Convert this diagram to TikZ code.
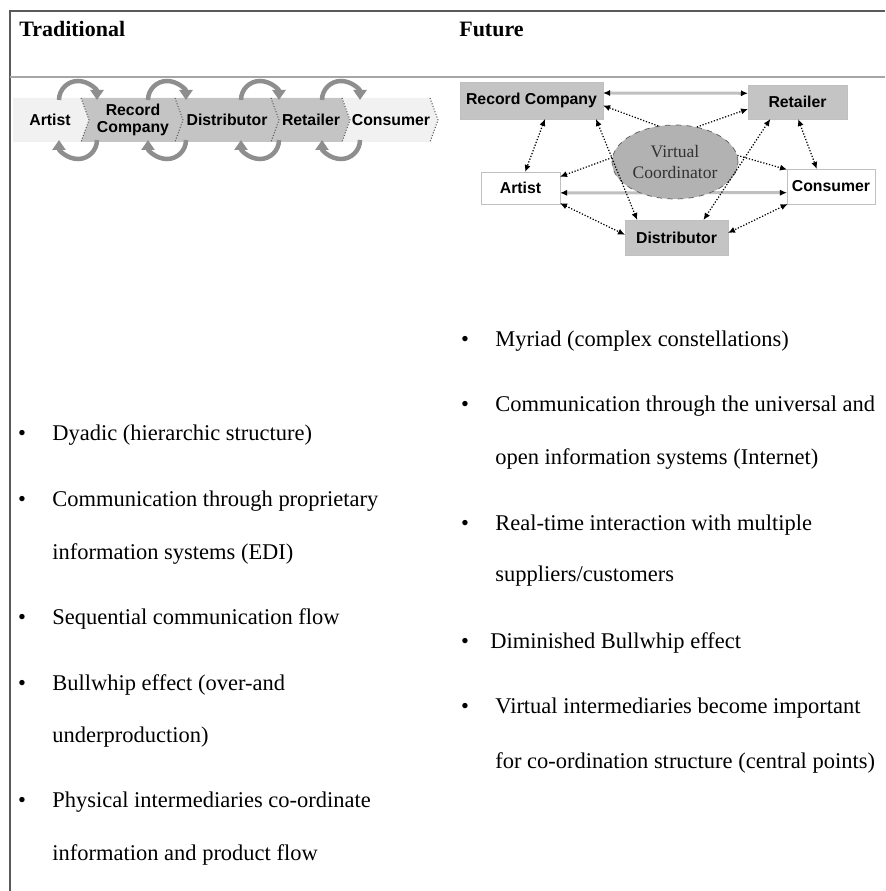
\documentclass[tikz,border=0pt]{standalone}
\usepackage{fontspec}
\setmainfont{Liberation Serif}
\setsansfont{Liberation Sans}
\usepackage{tikz}
\usetikzlibrary{arrows.meta,shapes.geometric,backgrounds}
\definecolor{scPale}{HTML}{F1F1F1}
\definecolor{scGray}{HTML}{C4C4C4}
\definecolor{scDark}{HTML}{B2B2B2}
\definecolor{scArc}{HTML}{8E8E8E}
\definecolor{scLine}{HTML}{C0C0C0}
\definecolor{scRule}{HTML}{5A5A5A}

\begin{document}
\begin{tikzpicture}[x=0.02cm, y=-0.02cm,
    head/.style={anchor=base west, inner sep=0pt, font=\fontsize{12.5}{14}\selectfont\bfseries},
    txt/.style={anchor=base west, inner sep=0pt, font=\fontsize{12.8}{14}\selectfont},
    dot/.style={anchor=base, inner sep=0pt, font=\fontsize{12.8}{14}\selectfont},
    lbl/.style={align=center, inner sep=0pt, font=\fontsize{9}{10}\selectfont\sffamily\bfseries},
    box/.style={rectangle, draw=scLine, inner sep=0pt, outer sep=0pt,
                font=\fontsize{9}{10}\selectfont\sffamily\bfseries},
    seg/.style={draw=scRule, densely dotted, line width=0.6pt},
    cyc/.style={scArc, line width=0.09cm, -{Triangle[length=0.2cm, width=0.26cm]}},
    link/.style={densely dotted, line width=0.7pt, {Latex[length=4pt, width=3.5pt]}-{Latex[length=4pt, width=3.5pt]}},
    vlink/.style={densely dotted, line width=0.7pt, -{Latex[length=4pt, width=3.5pt]}},
    flat/.style={scLine, line width=0.06cm,
                 {Latex[length=4pt, width=3.5pt, color=black]}-{Latex[length=4pt, width=3.5pt, color=black]}}
  ]
  \useasboundingbox (0,0) rectangle (885,891);

  \draw[scRule, line width=1.2pt] (10,891) -- (10,11) -- (885,11);
  \draw[gray!70, line width=1pt] (10,77) -- (885,77);

  \node[head] (hl) at (19,37)  {Traditional};
  \node[head] (hr) at (459,37) {Future};

  \fill[scPale] (13,98) -- (81,98) -- (89,120) -- (81,142) -- (13,142) -- cycle;
  \fill[scGray] (81,98) -- (342,98) -- (350,120) -- (342,142) -- (81,142) -- (89,120) -- cycle;
  \fill[scPale] (342,98) -- (430,98) -- (438,120) -- (430,142) -- (342,142) -- (350,120) -- cycle;
  \draw[seg] (81,98) -- (89,120) -- (81,142);
  \draw[seg] (175,98) -- (183,120) -- (175,142);
  \draw[seg] (271,98) -- (279,120) -- (271,142);
  \draw[seg] (342,98) -- (350,120) -- (342,142);
  \draw[seg] (430,98) -- (438,120) -- (430,142);

  \node[lbl] (s1) at (50,120)  {Artist};
  \node[lbl] (s2) at (133,120) {Record\\Company};
  \node[lbl] (s3) at (227,120) {Distributor};
  \node[lbl] (s4) at (311,120) {Retailer};
  \node[lbl] (s5) at (391,120) {Consumer};

  \foreach \cx in {78,167,260,341} {
    \draw[cyc] (\cx-19,100) arc[start angle=180, end angle=360, radius=19];
    \draw[cyc] (\cx+19,140) arc[start angle=0, end angle=180, radius=19];
  }

  \node[box, fill=scGray, minimum width=2.86cm, minimum height=0.74cm] (rc)  at (531.5,100.5) {Record Company};
  \node[box, fill=scGray, minimum width=1.98cm, minimum height=0.68cm] (ret) at (797.5,102)   {Retailer};
  \node[ellipse, draw=scRule, dashed, fill=scDark, minimum width=2.52cm, minimum height=1.48cm,
        inner sep=0pt, align=center, text=black!80, font=\fontsize{10}{11.4}\selectfont] (vc) at (675,162) {Virtual\\Coordinator};
  \node[box, fill=white, minimum width=1.58cm, minimum height=0.64cm]  (art) at (520.5,188) {Artist};
  \node[box, fill=white, minimum width=1.76cm, minimum height=0.70cm]  (con) at (831,186.5) {Consumer};
  \node[box, fill=scGray, minimum width=2.06cm, minimum height=0.70cm] (dis) at (676.5,237.5) {Distributor};

  \begin{scope}[on background layer]
    \draw[flat] (rc.6) -- (ret.170);
    \draw[flat] (art.-7) -- (con.188);
  \end{scope}

  \draw[vlink] (vc.115) -- (rc.-4);
  \draw[vlink] (vc.58) -- (ret.-172);
  \draw[vlink] (vc.176) -- (art.16);
  \draw[vlink] (vc.6) -- (con.159);
  \draw[link] (rc.-54) -- (art.74);
  \draw[link] (rc.-16) -- (dis.156);
  \draw[link] (ret.-148) -- (dis.33);
  \draw[link] (ret.-88) -- (con.129);
  \draw[link] (art.-21) -- (dis.177);
  \draw[link] (con.-158) -- (dis.5);

  \node[dot] (bl1) at (22,440.7) {\textbullet};
  \node[txt] (tl1) at (52,440.7) {Dyadic (hierarchic structure)};
  \node[dot] (bl2) at (22,506.7) {\textbullet};
  \node[txt] (tl2) at (52,506.7) {Communication through proprietary};
  \node[txt] (tl2b) at (52,559) {information systems (EDI)};
  \node[dot] (bl3) at (22,624) {\textbullet};
  \node[txt] (tl3) at (52,624) {Sequential communication flow};
  \node[dot] (bl4) at (22,690) {\textbullet};
  \node[txt] (tl4) at (52,690) {Bullwhip effect (over-and};
  \node[txt] (tl4b) at (52,742.7) {underproduction)};
  \node[dot] (bl5) at (22,807) {\textbullet};
  \node[txt] (tl5) at (52,807) {Physical intermediaries co-ordinate};
  \node[txt] (tl5b) at (52,860) {information and product flow};

  \node[dot] (br1) at (465,346.7) {\textbullet};
  \node[txt] (tr1) at (495,346.7) {Myriad (complex constellations)};
  \node[dot] (br2) at (465,411.7) {\textbullet};
  \node[txt] (tr2) at (495,411.7) {Communication through the universal and};
  \node[txt] (tr2b) at (495,464) {open information systems (Internet)};
  \node[dot] (br3) at (465,530) {\textbullet};
  \node[txt] (tr3) at (495,530) {Real-time interaction with multiple};
  \node[txt] (tr3b) at (495,581.7) {suppliers/customers};
  \node[dot] (br4) at (465,648.3) {\textbullet};
  \node[txt] (tr4) at (490,648.3) {Diminished Bullwhip effect};
  \node[dot] (br5) at (465,713.3) {\textbullet};
  \node[txt] (tr5) at (495,713.3) {Virtual intermediaries become important};
  \node[txt] (tr5b) at (495,768.3) {for co-ordination structure (central points)};
\end{tikzpicture}
\end{document}
